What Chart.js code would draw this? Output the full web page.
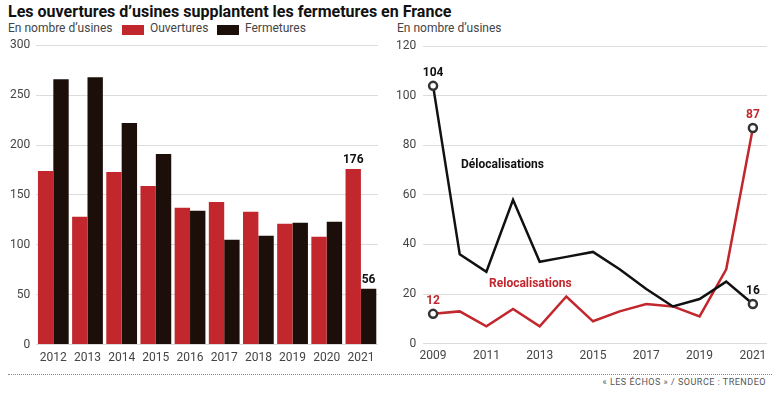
<!DOCTYPE html>
<html>
<head>
<meta charset="UTF-8" />
<script src="https://cdn.jsdelivr.net/npm/chart.js@4.4.0/dist/chart.umd.min.js"></script>
<style>
body { margin: 0; background: #fff; }
#wrap { position: relative; width: 780px; height: 393px; overflow: hidden; font-family: Roboto, sans-serif; }
h1 { position: absolute; left: 8px; top: 2px; margin: 0; font-size: 16px; font-weight: 700; color: #111; white-space: nowrap; }
.txt { position: absolute; top: 21px; font-size: 12px; color: #444; white-space: nowrap; }
.sw { position: absolute; top: 25px; width: 22px; height: 10px; }
#left { position: absolute; left: 0; top: 32px; }
#right { position: absolute; left: 385px; top: 32px; }
#rule { position: absolute; left: 8px; right: 8px; top: 374px; border-top: 1px dotted #888; }
#src { position: absolute; right: 14px; top: 377px; font-size: 9px; letter-spacing: 0.5px; color: #555; }
</style>
</head>
<body>
<div id="wrap">
	<h1>Les ouvertures d’usines supplantent les fermetures en France</h1>
	<div class="txt" style="left:8px">En nombre d’usines</div>
	<div class="sw" style="left:122px;background:#c1272d"></div>
	<div class="txt" style="left:150px">Ouvertures</div>
	<div class="sw" style="left:217px;background:#1c0f0a"></div>
	<div class="txt" style="left:245px">Fermetures</div>
	<div class="txt" style="left:397px">En nombre d’usines</div>
	<canvas id="left" width="385" height="339"></canvas>
	<canvas id="right" width="395" height="339"></canvas>
	<div id="rule"></div>
	<div id="src">« LES ÉCHOS » / SOURCE : TRENDEO</div>
</div>
<script>
// left chart: openings vs closures
const years = ["2012", "2013", "2014", "2015", "2016", "2017", "2018", "2019", "2020", "2021"];
const ouvertures = [174, 128, 173, 159, 137, 143, 133, 121, 108, 176];
const fermetures = [266, 268, 222, 191, 134, 105, 109, 122, 123, 56];

// right chart: relocations vs delocations
const lineYears = [2009, 2010, 2011, 2012, 2013, 2014, 2015, 2016, 2017, 2018, 2019, 2020, 2021];
const delocalisations = [104, 36, 29, 58, 33, 35, 37, 30, 22, 15, 18, 25, 16];
const relocalisations = [12, 13, 7, 14, 7, 19, 9, 13, 16, 15, 11, 30, 87];
const lineXTicks = [2009, 2011, 2013, 2015, 2017, 2019, 2021];

const RED = "#c1272d";
const BLACK = "#1c0f0a";
const GRID = "#dcdcdc";
const TICK = { family: "Roboto", size: 12 };

// value labels above some marks
const valueLabels = {
	id: "valueLabels",
	afterDatasetsDraw(chart, args, opts) {
		const ctx = chart.ctx;
		ctx.save();
		ctx.font = "bold 12px Roboto";
		ctx.textAlign = "center";
		ctx.textBaseline = "bottom";
		chart.data.datasets.forEach((ds, i) => {
			const meta = chart.getDatasetMeta(i);
			(ds.labelAt || []).forEach(idx => {
				const el = meta.data[idx];
				const v = meta.controller.getParsed(idx).y;
				ctx.fillStyle = ds.labelColor || "#111";
				ctx.fillText(String(v), el.x, el.y - (opts.gap || 3));
			});
		});
		ctx.restore();
	}
};

const lineNotes = {
	id: "lineNotes",
	afterDatasetsDraw(chart) {
		const { ctx, scales: { x, y } } = chart;
		ctx.save();
		ctx.font = "bold 12px Roboto";
		ctx.textAlign = "left";
		ctx.textBaseline = "middle";
		ctx.fillStyle = "#111";
		ctx.fillText("Délocalisations", x.getPixelForValue(2010.05), y.getPixelForValue(72));
		ctx.fillStyle = RED;
		ctx.fillText("Relocalisations", x.getPixelForValue(2011.1), y.getPixelForValue(24));
		ctx.restore();
	}
};

new Chart(document.getElementById("left"), {
	type: "bar",
	data: {
		labels: years,
		datasets: [
			{ label: "Ouvertures", data: ouvertures, backgroundColor: RED, labelAt: [9], labelColor: "#111" },
			{ label: "Fermetures", data: fermetures, backgroundColor: BLACK, labelAt: [9], labelColor: "#111" }
		]
	},
	options: {
		responsive: false,
		animation: false,
		layout: { padding: { left: 4, right: 7, top: 9, bottom: 0 } },
		datasets: { bar: { categoryPercentage: 0.9, barPercentage: 1.0 } },
		scales: {
			x: {
				grid: { display: false, drawTicks: false },
				border: { display: false },
				ticks: { color: "#444", font: TICK, padding: 6, maxRotation: 0 }
			},
			y: {
				min: 0, max: 300,
				grid: { color: GRID, drawTicks: false },
				border: { display: false },
				ticks: { stepSize: 50, color: "#444", font: TICK, padding: 6 }
			}
		},
		plugins: { legend: { display: false }, tooltip: { enabled: false }, valueLabels: { gap: 3 } }
	},
	plugins: [valueLabels]
});

const endPoint = c => (c.dataIndex === 0 || c.dataIndex === lineYears.length - 1) ? 4 : 0;

new Chart(document.getElementById("right"), {
	type: "line",
	data: {
		datasets: [
			{
				label: "Délocalisations",
				data: lineYears.map((yr, i) => ({ x: yr, y: delocalisations[i] })),
				borderColor: "#111", borderWidth: 2.5,
				pointBorderColor: "#333", pointBackgroundColor: "#fff",
				labelAt: [0, 12], labelColor: "#111"
			},
			{
				label: "Relocalisations",
				data: lineYears.map((yr, i) => ({ x: yr, y: relocalisations[i] })),
				borderColor: RED, borderWidth: 2.5,
				pointBorderColor: "#333", pointBackgroundColor: "#fff",
				labelAt: [0, 12], labelColor: RED
			}
		]
	},
	options: {
		responsive: false,
		animation: false,
		layout: { padding: { left: 4, right: 13, top: 9, bottom: 3 } },
		elements: {
			point: { radius: endPoint, borderWidth: 1.5 },
			line: { tension: 0 }
		},
		scales: {
			x: {
				type: "linear", min: 2008.63, max: 2021.53,
				afterBuildTicks: s => { s.ticks = lineXTicks.map(v => ({ value: v })); },
				grid: { display: false, drawTicks: false },
				border: { display: false },
				ticks: { color: "#444", font: TICK, padding: 5, maxRotation: 0, callback: v => String(v) }
			},
			y: {
				min: 0, max: 120,
				ticks: { stepSize: 20, color: "#444", font: TICK, padding: 7 },
				grid: { color: GRID, drawTicks: false },
				border: { display: false }
			}
		},
		plugins: { legend: { display: false }, tooltip: { enabled: false }, valueLabels: { gap: 7 } }
	},
	plugins: [valueLabels, lineNotes]
});
</script>
</body>
</html>
